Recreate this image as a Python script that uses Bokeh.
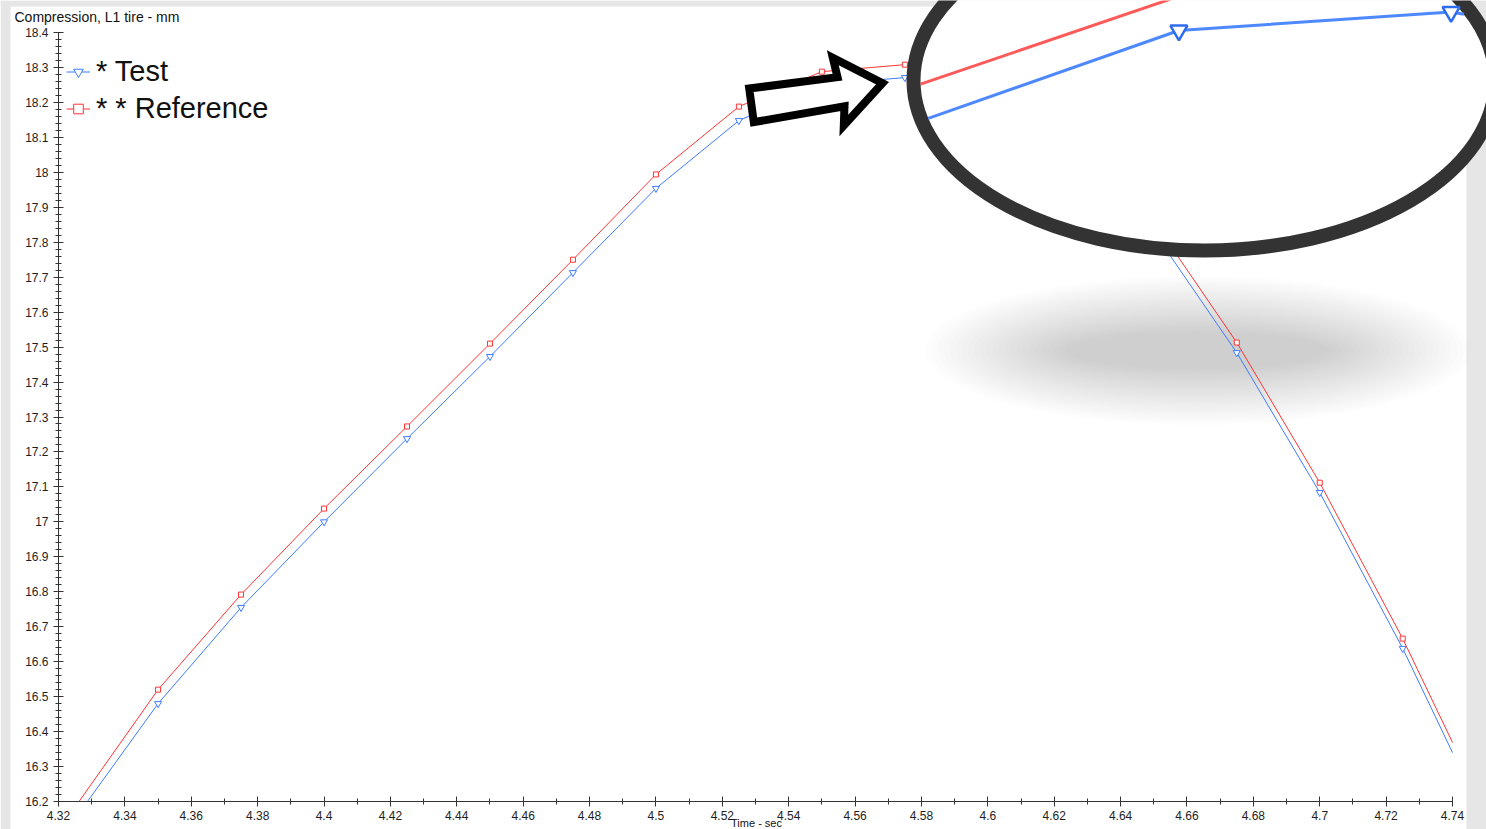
import numpy as np
from bokeh.plotting import figure
from bokeh.models import FixedTicker, Legend, LegendItem, Label, Range1d
from bokeh.embed import file_html
from bokeh.resources import INLINE

# ---- data: tire L1 compression over time -------------------------------
time_s = [4.325, 4.35, 4.375, 4.40, 4.425, 4.45, 4.475, 4.50, 4.525, 4.55,
          4.575, 4.60, 4.625, 4.65, 4.675, 4.70, 4.725, 4.74]
test_mm = [16.151, 16.48, 16.755, 17.0, 17.238, 17.473, 17.713, 17.954, 18.148,
           18.251, 18.271, 18.221, 18.07, 17.83, 17.484, 17.084, 16.638, 16.34]
reference_mm = [16.184, 16.52, 16.792, 17.038, 17.273, 17.51, 17.75, 17.994, 18.188,
                18.288, 18.308, 18.26, 18.11, 17.86, 17.513, 17.112, 16.666, 16.369]

x_ticks = [4.32, 4.34, 4.36, 4.38, 4.40, 4.42, 4.44, 4.46, 4.48, 4.50, 4.52,
           4.54, 4.56, 4.58, 4.60, 4.62, 4.64, 4.66, 4.68, 4.70, 4.72, 4.74]
x_tick_labels = ["4.32", "4.34", "4.36", "4.38", "4.4", "4.42", "4.44", "4.46",
                 "4.48", "4.5", "4.52", "4.54", "4.56", "4.58", "4.6", "4.62",
                 "4.64", "4.66", "4.68", "4.7", "4.72", "4.74"]
y_ticks = [16.2, 16.3, 16.4, 16.5, 16.6, 16.7, 16.8, 16.9, 17.0, 17.1, 17.2,
           17.3, 17.4, 17.5, 17.6, 17.7, 17.8, 17.9, 18.0, 18.1, 18.2, 18.3, 18.4]
y_tick_labels = ["16.2", "16.3", "16.4", "16.5", "16.6", "16.7", "16.8", "16.9",
                 "17", "17.1", "17.2", "17.3", "17.4", "17.5", "17.6", "17.7",
                 "17.8", "17.9", "18", "18.1", "18.2", "18.3", "18.4"]

X_MIN, X_MAX = 4.32, 4.74
Y_MIN, Y_MAX = 16.2, 18.4

# ---- page geometry (pixels) -------------------------------------------
PAGE_W, PAGE_H = 1486, 829
PANEL_L, PANEL_T, PANEL_R = 10, 6, 1466   # white panel inside the grey page
AXIS_L, AXIS_R = 58, 1452                 # pixel columns of X_MIN / X_MAX
AXIS_T, AXIS_B = 32, 801                  # pixel rows of Y_MAX / Y_MIN
PX_X = (AXIS_R - AXIS_L) / (X_MAX - X_MIN)
PX_Y = (AXIS_B - AXIS_T) / (Y_MAX - Y_MIN)


def dx(px):
    return X_MIN + (px - AXIS_L) / PX_X


def dy(py):
    return Y_MAX - (py - AXIS_T) / PX_Y


def to_px(x, y):
    return AXIS_L + (np.asarray(x) - X_MIN) * PX_X, AXIS_T + (Y_MAX - np.asarray(y)) * PX_Y


def clip_to_axes(xs, ys):
    """Liang-Barsky clip of a polyline to the axis box; returns joined pieces."""
    out_x, out_y = [], []
    for i in range(len(xs) - 1):
        x0, y0, x1, y1 = xs[i], ys[i], xs[i + 1], ys[i + 1]
        ddx, ddy = x1 - x0, y1 - y0
        t0, t1 = 0.0, 1.0
        ok = True
        for pp, qq in ((-ddx, x0 - X_MIN), (ddx, X_MAX - x0), (-ddy, y0 - Y_MIN), (ddy, Y_MAX - y0)):
            if pp == 0:
                if qq < 0:
                    ok = False
                continue
            r = qq / pp
            if pp < 0:
                t0 = max(t0, r)
            else:
                t1 = min(t1, r)
        if not ok or t0 > t1:
            continue
        a = (x0 + t0 * ddx, y0 + t0 * ddy)
        b = (x0 + t1 * ddx, y0 + t1 * ddy)
        if not out_x:
            out_x.append(a[0]); out_y.append(a[1])
        out_x.append(b[0]); out_y.append(b[1])
    return out_x, out_y


fig = figure(width=PAGE_W, height=PAGE_H, output_backend="svg", toolbar_location=None,
             x_range=Range1d(dx(0), dx(PAGE_W)), y_range=Range1d(dy(PAGE_H), dy(0)),
             min_border=0, min_border_left=0, min_border_right=0,
             min_border_top=0, min_border_bottom=0,
             background_fill_color="white", border_fill_color="white")
fig.outline_line_color = None
fig.grid.visible = False

# grey page surround
GREY = "#e6e6e6"
fig.quad(left=[dx(0), dx(0), dx(PANEL_R)], right=[dx(PANEL_L), dx(PAGE_W), dx(PAGE_W)],
         top=[dy(0), dy(0), dy(0)], bottom=[dy(PAGE_H), dy(PANEL_T), dy(PAGE_H)],
         fill_color=GREY, line_color=None)

AX = "#333333"
for ax in (fig.xaxis[0], fig.yaxis[0]):
    ax.axis_line_color = AX
    ax.major_tick_line_color = AX
    ax.minor_tick_line_color = AX
    ax.major_tick_in = 5
    ax.major_tick_out = 5
    ax.minor_tick_in = 3
    ax.minor_tick_out = 3
    ax.major_label_text_font = "Liberation Sans"
    ax.major_label_text_font_size = "12px"
    ax.major_label_text_color = "#1e1e1e"

x_minor = [round(4.33 + 0.02 * i, 3) for i in range(21)]
y_minor = [round(16.2 + 0.02 * i, 3) for i in range(111) if i % 5]
fig.xaxis.ticker = FixedTicker(ticks=x_ticks, minor_ticks=x_minor)
fig.yaxis.ticker = FixedTicker(ticks=y_ticks, minor_ticks=y_minor)
fig.xaxis.major_label_overrides = dict(zip(x_ticks, x_tick_labels))
fig.yaxis.major_label_overrides = dict(zip(y_ticks, y_tick_labels))
fig.xaxis.bounds = (X_MIN, X_MAX)
fig.yaxis.bounds = (Y_MIN, Y_MAX)
fig.xaxis.fixed_location = Y_MIN
fig.yaxis.fixed_location = X_MIN
fig.xaxis.major_label_standoff = 4
fig.yaxis.major_label_standoff = 5

BLUE = "#3d7bff"
RED = "#ff3333"

# ---- soft drop shadow under the magnifier -----------------------------
sh_cx, sh_cy = 1197, 350
n_sh = 24
for k in range(n_sh):
    f = k / (n_sh - 1)
    fig.ellipse(x=dx(sh_cx), y=dy(sh_cy),
                width=(545 - 280 * f) / PX_X, height=(150 - 112 * f) / PX_Y,
                fill_color="black", fill_alpha=0.0095, line_color=None)

# ---- main series (clipped to the axis box) -----------------------------
tx, ty = clip_to_axes(time_s, test_mm)
rx, ry = clip_to_axes(time_s, reference_mm)
r_test_line = fig.line(tx, ty, line_color=BLUE, line_width=1)
r_ref_line = fig.line(rx, ry, line_color=RED, line_width=1)

in_box = [i for i in range(len(time_s) - 1)
          if X_MIN <= time_s[i] <= X_MAX and Y_MIN <= min(test_mm[i], reference_mm[i])]
r_test_pts = fig.scatter([time_s[i] for i in in_box], [test_mm[i] for i in in_box],
                         marker="inverted_triangle", size=7,
                         line_color=BLUE, fill_color="white", line_width=1)
r_ref_pts = fig.scatter([time_s[i] for i in in_box], [reference_mm[i] for i in in_box],
                        marker="square", size=5,
                        line_color=RED, fill_color="white", line_width=1)

# ---- magnifier: enlarged view of the peak ------------------------------
ring_cx, ring_cy, ring_a, ring_b, ring_w = 1204, 80, 291, 170, 14
in_a, in_b = ring_a - ring_w / 2, ring_b - ring_w / 2
MAG_X, MAG_Y = 3.28, 2.65
anchor_t = time_s.index(4.55)
anchor_px = (1178.4, 30.0)


def magnify(t, y):
    px, py = to_px(t, y)
    ax_px, ay_px = to_px(time_s[anchor_t], test_mm[anchor_t])
    return anchor_px[0] + MAG_X * (px - ax_px), anchor_px[1] + MAG_Y * (py - ay_px)


def clip_to_lens(px, py):
    """Cut a polyline (pixel coords) to the inside of the lens ellipse."""
    u = (np.asarray(px) - ring_cx) / in_a
    v = (np.asarray(py) - ring_cy) / in_b
    pieces, cur = [], []
    for i in range(len(u) - 1):
        u0, v0, u1, v1 = u[i], v[i], u[i + 1], v[i + 1]
        du, dv = u1 - u0, v1 - v0
        A = du * du + dv * dv
        B = 2 * (u0 * du + v0 * dv)
        C = u0 * u0 + v0 * v0 - 1
        disc = B * B - 4 * A * C
        if disc <= 0:
            continue
        s = np.sqrt(disc)
        t0 = max((-B - s) / (2 * A), 0.0)
        t1 = min((-B + s) / (2 * A), 1.0)
        if t0 >= t1:
            continue
        p0 = (u0 + t0 * du, v0 + t0 * dv)
        p1 = (u0 + t1 * du, v0 + t1 * dv)
        if cur and t0 == 0.0:
            cur.append(p1)
        else:
            if cur:
                pieces.append(cur)
            cur = [p0, p1]
        if t1 < 1.0:
            pieces.append(cur)
            cur = []
    if cur:
        pieces.append(cur)
    xs = [[dx(ring_cx + q[0] * in_a) for q in pc] for pc in pieces]
    ys = [[dy(ring_cy + q[1] * in_b) for q in pc] for pc in pieces]
    return xs, ys


fig.ellipse(x=dx(ring_cx), y=dy(ring_cy), width=2 * ring_a / PX_X, height=2 * ring_b / PX_Y,
            fill_color="white", line_color="#333333", line_width=ring_w)

for series, color in ((reference_mm, "#ff5a5a"), (test_mm, "#4d88ff")):
    mx, my = magnify(time_s, series)
    xs, ys = clip_to_lens(mx, my)
    fig.multi_line(xs, ys, line_color=color, line_width=3)

mtx, mty = magnify(time_s, test_mm)
inside = [i for i in range(len(mtx) - 1)
          if ((mtx[i] - ring_cx) / in_a) ** 2 + ((mty[i] - ring_cy) / in_b) ** 2 < 0.97]
fig.scatter([dx(mtx[i]) for i in inside], [dy(mty[i]) for i in inside],
            marker="inverted_triangle", size=17, line_color="#2f6df0",
            fill_color="white", line_width=2.5)

# ---- call-out arrow pointing at the lens -------------------------------
arrow_px = [(748.7, 88.0), (753.3, 121.7), (844.0, 105.7), (843.3, 125.0),
            (882.0, 82.7), (832.3, 57.3), (837.0, 76.7)]
fig.patch([dx(a) for a, _ in arrow_px], [dy(b) for _, b in arrow_px],
          fill_color="white", line_color="black", line_width=8, line_join="miter")

# ---- legend -------------------------------------------------------------
leg_top, leg_row = 53, 37
legend = Legend(items=[LegendItem(label="* Test", renderers=[r_test_line, r_test_pts]),
                       LegendItem(label="* * Reference", renderers=[r_ref_line, r_ref_pts])],
                location=(66, PAGE_H - (leg_top + 2 * leg_row)),
                orientation="vertical",
                padding=0, margin=0, spacing=0, glyph_width=24, glyph_height=leg_row,
                label_height=leg_row, label_standoff=6,
                label_text_font="Liberation Sans",
                label_text_font_size="29px", label_text_color="#111111",
                background_fill_alpha=0, border_line_color=None)
fig.add_layout(legend)

# ---- titles -------------------------------------------------------------
fig.add_layout(Label(x=dx(14), y=dy(8), text="Compression, L1 tire - mm",
                     text_baseline="top", text_align="left",
                     text_font="Liberation Sans", text_font_size="14px",
                     text_color="#111111"))
fig.add_layout(Label(x=dx(756), y=dy(PAGE_H - 1), text="Time - sec",
                     text_baseline="bottom", text_align="center",
                     text_font="Liberation Sans", text_font_size="11px",
                     text_color="#111111"))

open("out.html", "w").write(file_html(fig, INLINE))
